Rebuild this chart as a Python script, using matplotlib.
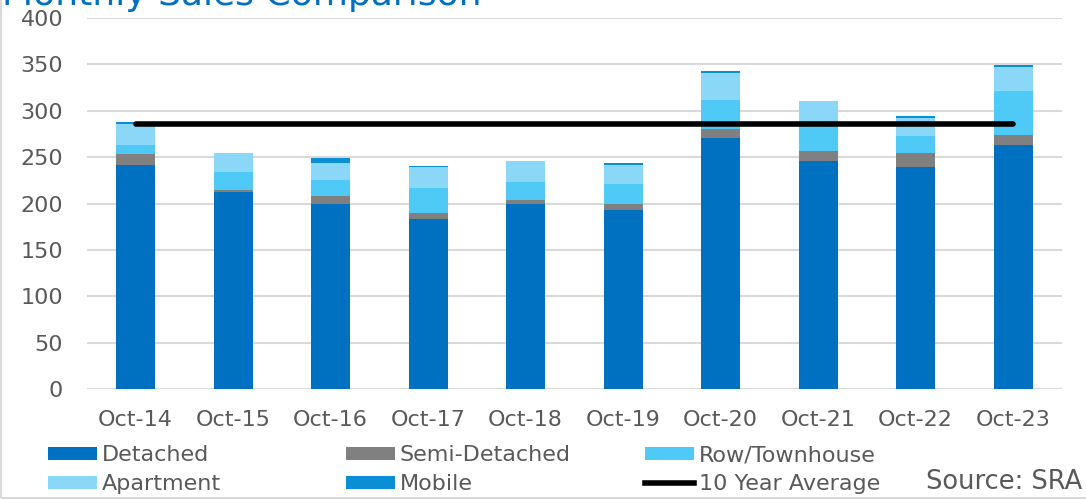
import matplotlib
matplotlib.use("Agg")
import matplotlib.pyplot as plt
from matplotlib.patches import Patch, Rectangle
from matplotlib.lines import Line2D
import numpy as np

# data
months = ["Oct-14", "Oct-15", "Oct-16", "Oct-17", "Oct-18",
          "Oct-19", "Oct-20", "Oct-21", "Oct-22", "Oct-23"]
detached = [242, 212, 200, 183, 200, 193, 271, 246, 239, 263]
semi_detached = [11, 3, 8, 7, 4, 7, 9, 11, 15, 11]
row_townhouse = [10, 19, 17, 27, 19, 21, 32, 32, 19, 47]
apartment = [23, 20, 19, 22, 23, 21, 29, 21, 19, 26]
mobile = [2, 1, 5, 1, 0, 2, 2, 1, 2, 2]
ten_year_avg = 286

series = [("Detached", detached, "#0070C0"),
          ("Semi-Detached", semi_detached, "#808080"),
          ("Row/Townhouse", row_townhouse, "#4FC9F5"),
          ("Apartment", apartment, "#8BD7F8"),
          ("Mobile", mobile, "#0A8FD6")]

txt = "#595959"
fig = plt.figure(figsize=(10.86, 4.99), dpi=100)
ax = fig.add_axes([0.0799, 0.2204, 0.8978, 0.7435])

x = np.arange(len(months))
bottom = np.zeros(len(months))
for name, vals, col in series:
    ax.bar(x, vals, width=0.4, bottom=bottom, color=col, edgecolor="none", zorder=2)
    bottom += np.array(vals)

ax.plot([x[0], x[-1]], [ten_year_avg, ten_year_avg], color="black", lw=4,
        solid_capstyle="round", zorder=3)

ax.set_xlim(-0.5, len(months) - 0.5)
ax.set_ylim(0, 400)
ax.set_yticks(range(0, 401, 50))
ax.set_xticks(x)
ax.set_xticklabels(months)
ax.grid(axis="y", color="#D9D9D9", lw=1.5, zorder=0)
ax.set_axisbelow(True)
for s in ax.spines.values():
    s.set_visible(False)
ax.tick_params(axis="both", length=0, labelsize=16, labelcolor=txt)
ax.tick_params(axis="y", pad=17)
ax.tick_params(axis="x", pad=15)

# title, mostly cut off at the top like the original
fig.text(0.002, 0.99, "Monthly Sales Comparison", fontsize=26, color="#0070C0",
         va="baseline", ha="left")

# legend in three columns
cols = [[("Detached", "#0070C0"), ("Apartment", "#8BD7F8")],
        [("Semi-Detached", "#808080"), ("Mobile", "#0A8FD6")],
        [("Row/Townhouse", "#4FC9F5"), None]]
xs = [48 / 1086, 346 / 1086, 645 / 1086]
for xpos, items in zip(xs, cols):
    handles = []
    for it in items:
        if it is None:
            handles.append(Line2D([], [], color="black", lw=4, label="10 Year Average"))
        else:
            handles.append(Patch(facecolor=it[1], label=it[0]))
    leg = fig.legend(handles=handles, loc="upper left", bbox_to_anchor=(xpos, 0.108),
                     frameon=False, fontsize=16, handlelength=2.2, handleheight=0.55,
                     handletextpad=0.22, labelspacing=0.42, borderaxespad=0,
                     borderpad=0)
    for t in leg.get_texts():
        t.set_color(txt)

fig.text(0.997, 0.034, "Source: SRA", fontsize=18.5, color=txt, ha="right", va="center")

fig.patches.append(Rectangle((0.001, 0.003), 1.5, 1.5, transform=fig.transFigure,
                             fill=False, edgecolor="#D9D9D9", lw=1.5))

fig.savefig("out.png", dpi=100)
